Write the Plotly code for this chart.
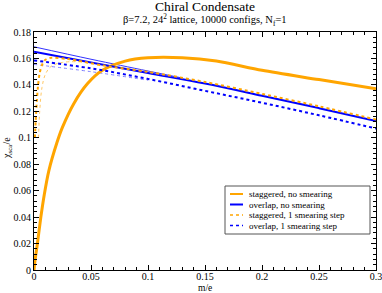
import plotly.graph_objects as go

# ---- data ----
m_stag = [0, 0.001, 0.003, 0.006, 0.009, 0.013, 0.02, 0.025, 0.035, 0.047, 0.06, 0.08, 0.1, 0.13, 0.16, 0.2, 0.25, 0.3]
chi_stag = [0, 0.008, 0.02, 0.04, 0.057, 0.075, 0.096, 0.108, 0.126, 0.141, 0.151, 0.158, 0.1605, 0.1605, 0.158, 0.151, 0.144, 0.137]

m_ov = [0, 0.05, 0.1, 0.15, 0.2, 0.25, 0.3]
chi_ov = [0.165, 0.157, 0.149, 0.141, 0.1318, 0.1224, 0.1127]
m_ov_hi = [0, 0.05, 0.1, 0.13]
chi_ov_hi = [0.1688, 0.1594, 0.1505, 0.1452]

m_stag_s = [0.0008, 0.0015, 0.0025, 0.0035, 0.005, 0.007, 0.01, 0.015, 0.03, 0.06, 0.1, 0.15, 0.2, 0.25, 0.3]
chi_stag_s = [0.10, 0.113, 0.128, 0.139, 0.149, 0.155, 0.159, 0.1605, 0.1595, 0.1548, 0.1498, 0.1422, 0.1332, 0.1238, 0.1138]
m_stag_s_lo = [0.004, 0.005, 0.007, 0.01, 0.015, 0.025, 0.04]
chi_stag_s_lo = [0.10, 0.12, 0.138, 0.148, 0.154, 0.157, 0.1575]

m_ov_s = [0, 0.05, 0.1, 0.15, 0.2, 0.25, 0.3]
chi_ov_s = [0.1585, 0.1525, 0.1445, 0.1355, 0.1265, 0.117, 0.107]
m_ov_s_lo = [0, 0.05, 0.1]
chi_ov_s_lo = [0.1555, 0.150, 0.1435]

x_ticks = [0, 0.05, 0.1, 0.15, 0.2, 0.25, 0.3]
x_tick_labels = ["0", "0.05", "0.1", "0.15", "0.2", "0.25", "0.3"]
y_ticks = [0, 0.02, 0.04, 0.06, 0.08, 0.1, 0.12, 0.14, 0.16, 0.18]
y_tick_labels = ["0", "0.02", "0.04", "0.06", "0.08", "0.1", "0.12", "0.14", "0.16", "0.18"]

legend_names = ["staggered, no smearing", "overlap, no smearing",
                "staggered, 1 smearing step", "overlap, 1 smearing step"]

ORANGE = "#FFA500"
BLUE = "#0000FF"
FONT = "Liberation Serif"

W, H = 382, 293
ML, MR, MT, MB = 34, 6, 32, 23
PW, PH = W - ML - MR, H - MT - MB


def px(xp):
    return (xp - ML) / PW


def py(yp):
    return (H - MB - yp) / PH


fig = go.Figure()
# faint secondary lines first
fig.add_trace(go.Scatter(x=m_ov_hi, y=chi_ov_hi, mode="lines", showlegend=False,
                         line=dict(color=BLUE, width=1, shape="spline"), opacity=0.8))
fig.add_trace(go.Scatter(x=m_ov_s_lo, y=chi_ov_s_lo, mode="lines", showlegend=False,
                         line=dict(color=BLUE, width=1, dash="dot", shape="spline"), opacity=0.5))
fig.add_trace(go.Scatter(x=m_stag_s_lo, y=chi_stag_s_lo, mode="lines", showlegend=False,
                         line=dict(color=ORANGE, width=1, dash="dot", shape="spline"), opacity=0.6))

styles = [
    dict(color=ORANGE, width=3, shape="spline", smoothing=0.8),
    dict(color=BLUE, width=2, shape="spline"),
    dict(color=ORANGE, width=2, dash="dot", shape="spline", smoothing=0.8),
    dict(color=BLUE, width=2, dash="dot", shape="spline"),
]
series = [(m_stag, chi_stag), (m_ov, chi_ov), (m_stag_s, chi_stag_s), (m_ov_s, chi_ov_s)]
for (xs, ys), name, st in zip(series, legend_names, styles):
    fig.add_trace(go.Scatter(x=xs, y=ys, mode="lines", name=name, showlegend=False, line=st))

axis_common = dict(showgrid=False, zeroline=False, showline=True, linecolor="black", linewidth=1,
                   mirror="allticks", ticks="inside", ticklen=5, tickcolor="black", automargin=False,
                   ticklabeloverflow="allow",
                   tickfont=dict(family=FONT, size=10, color="black"))

fig.update_xaxes(range=[0, 0.3], tickvals=x_ticks, ticktext=x_tick_labels, ticklabelstandoff=-3,
                 minor=dict(dtick=0.01, ticks="inside", ticklen=3, tickcolor="black"),
                 **axis_common)
fig.update_yaxes(range=[0, 0.18], tickvals=y_ticks, ticktext=y_tick_labels,
                 minor=dict(dtick=0.004, ticks="inside", ticklen=3, tickcolor="black"),
                 **axis_common)

# custom compact legend
shapes = [dict(type="rect", xref="paper", yref="paper", x0=px(225), x1=px(370), y0=py(186), y1=py(234),
               line=dict(color="#555555", width=1), fillcolor="white", layer="above")]
annotations = []
legend_y = [194, 204.5, 215, 225.5]
leg_dash = ["solid", "solid", "dot", "dot"]
for yy, name, st, dsh in zip(legend_y, legend_names, styles, leg_dash):
    shapes.append(dict(type="line", xref="paper", yref="paper", x0=px(230), x1=px(243), y0=py(yy), y1=py(yy),
                       line=dict(color=st["color"], width=2 if dsh == "solid" else 1.5, dash=dsh), layer="above"))
    annotations.append(dict(text=name, xref="paper", yref="paper", x=px(247), y=py(yy),
                            xanchor="left", yanchor="middle", showarrow=False,
                            font=dict(family=FONT, size=9, color="black")))

annotations += [
    dict(text="Chiral Condensate", xref="paper", yref="paper", x=0.5, y=py(7),
         xanchor="center", yanchor="middle", showarrow=False,
         font=dict(family=FONT, size=13.5, color="black")),
    dict(text="β=7.2, 24<sup>2</sup> lattice, 10000 configs, N<sub>f</sub>=1", xref="paper", yref="paper",
         x=0.5, y=py(20.5), xanchor="center", yanchor="middle", showarrow=False,
         font=dict(family=FONT, size=10.5, color="black")),
    dict(text="m/e", xref="paper", yref="paper", x=0.5, y=py(288),
         xanchor="center", yanchor="middle", showarrow=False,
         font=dict(family=FONT, size=9.5, color="black")),
    dict(text="χ<sub>sca</sub>/e", xref="paper", yref="paper", x=px(7), y=py(148), textangle=-90,
         xanchor="center", yanchor="middle", showarrow=False,
         font=dict(family=FONT, size=10, color="black")),
]

fig.update_layout(
    width=W, height=H,
    margin=dict(l=ML, r=MR, t=MT, b=MB),
    paper_bgcolor="white", plot_bgcolor="white",
    font=dict(family=FONT, color="black"),
    showlegend=False,
    shapes=shapes,
    annotations=annotations,
)

fig.write_html("out.html", config={"displayModeBar": False},
               post_script="document.body.style.margin='0';document.body.style.padding='0';")
